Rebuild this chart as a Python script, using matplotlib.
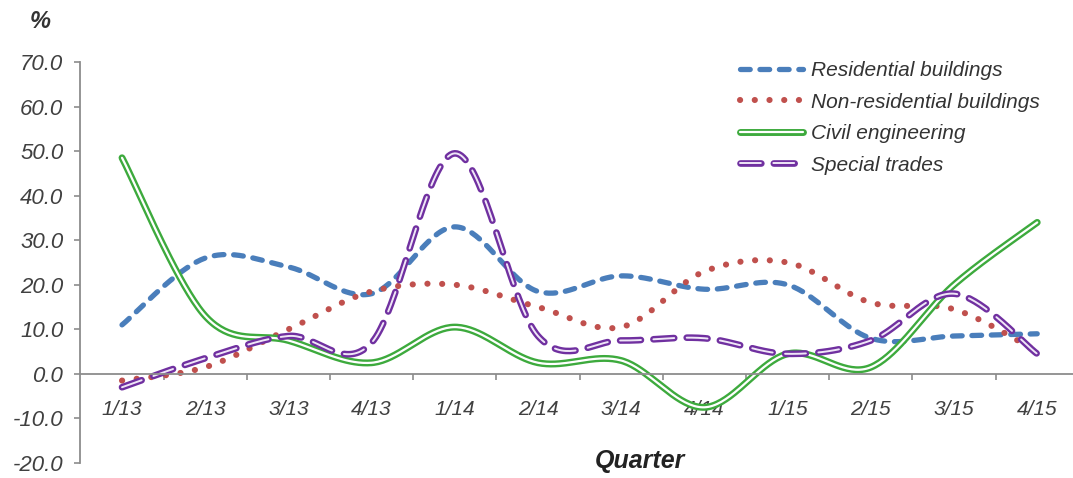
import numpy as np
import matplotlib
matplotlib.use("Agg")
from matplotlib import pyplot as plt
from matplotlib.legend_handler import HandlerTuple

plt.rcParams['font.family'] = ['Liberation Sans', 'DejaVu Sans']
plt.rcParams['lines.scale_dashes'] = False

quarters = ['1/13', '2/13', '3/13', '4/13', '1/14', '2/14', '3/14', '4/14',
            '1/15', '2/15', '3/15', '4/15']
residential = [11.0, 26.0, 24.0, 18.0, 33.0, 18.5, 22.0, 19.0, 20.0, 8.0, 8.5, 9.0]
non_residential = [-1.5, 1.5, 10.0, 18.5, 20.0, 15.0, 10.5, 23.0, 25.0, 16.0, 14.5, 5.0]
civil = [48.5, 13.0, 7.5, 2.5, 10.5, 2.5, 3.0, -7.5, 4.5, 1.5, 20.0, 34.0]
special = [-3.0, 3.5, 8.5, 7.0, 49.5, 8.5, 7.5, 8.0, 4.5, 7.5, 18.0, 4.5]
yticks = [-20, -10, 0, 10, 20, 30, 40, 50, 60, 70]


def smooth(vals, n=40):
    # Bezier smoothing through every point, control points at 1/6 of neighbour span
    p = np.column_stack([np.arange(len(vals), dtype=float), np.asarray(vals, float)])
    xs, ys = [], []
    for i in range(len(p) - 1):
        p0 = p[i - 1] if i > 0 else p[i]
        p1, p2 = p[i], p[i + 1]
        p3 = p[i + 2] if i + 2 < len(p) else p[i + 1]
        c1 = p1 + (p2 - p0) / 6.0
        c2 = p2 - (p3 - p1) / 6.0
        t = np.linspace(0, 1, n)[:, None]
        b = ((1 - t) ** 3) * p1 + 3 * (1 - t) ** 2 * t * c1 + 3 * (1 - t) * t ** 2 * c2 + t ** 3 * p2
        xs.append(b[:, 0]); ys.append(b[:, 1])
    return np.concatenate(xs), np.concatenate(ys)


fig = plt.figure(figsize=(10.73, 4.78), dpi=100)
ax = fig.add_axes([80 / 1073, 1 - 463 / 478, 993 / 1073, 401 / 478])

blue = '#4a7ebb'; red = '#c0504d'; green = '#3daa3d'; purple = '#7030a0'

x, y = smooth(residential)
h1, = ax.plot(x, y, color=blue, lw=3.8, linestyle=(0, (7, 7)), dash_capstyle='round')
x, y = smooth(non_residential)
h2, = ax.plot(x, y, color=red, lw=4.4, linestyle=(0, (0.1, 10.5)), dash_capstyle='round')
x, y = smooth(civil)
h3a, = ax.plot(x, y, color=green, lw=5.0, solid_capstyle='round')
h3b, = ax.plot(x, y, color='white', lw=1.6, solid_capstyle='round')
x, y = smooth(special)
h4a, = ax.plot(x, y, color=purple, lw=4.8, linestyle=(0, (15, 9)), dash_capstyle='round')
h4b, = ax.plot(x, y, color='#efe6f7', lw=1.4, linestyle=(0, (15, 9)), dash_capstyle='round')

ax.set_xlim(-0.505, 11.43)
ax.set_ylim(-20, 70)

for s in ['top', 'right']:
    ax.spines[s].set_visible(False)
ax.spines['bottom'].set_position(('data', 0))
ax.spines['bottom'].set_color('#8c8c8c')
ax.spines['left'].set_color('#8c8c8c')
ax.spines['bottom'].set_linewidth(1.3)
ax.spines['left'].set_linewidth(1.3)

ax.set_yticks(yticks)
ax.set_yticklabels(['%.1f' % v for v in yticks], fontsize=16, style='italic', color='#404040')
ax.tick_params(axis='y', length=4, width=1.2, color='#8c8c8c', pad=8)

ax.set_xticks(range(len(quarters)))
ax.set_xticklabels(quarters, fontsize=15, style='italic', color='#404040')
ax.set_xticks(np.arange(0.5, len(quarters) - 0.5, 1.0), minor=True)
ax.tick_params(axis='x', which='major', length=0, pad=19)
ax.tick_params(axis='x', which='minor', length=4, width=1.2, color='#8c8c8c', direction='out')

fig.text(40 / 1073, 1 - 22 / 478, '%', fontsize=17, fontweight='bold', style='italic',
         color='#333333', ha='center', va='center')
fig.text(640 / 1073, 1 - 461 / 478, 'Quarter', fontsize=18, fontweight='bold', style='italic',
         color='#222222', ha='center', va='center')

leg = ax.legend([h1, h2, (h3a, h3b), (h4a, h4b)],
                ['Residential buildings', 'Non-residential buildings', 'Civil engineering', 'Special trades'],
                handler_map={tuple: HandlerTuple(ndivide=1)},
                loc='upper left', bbox_to_anchor=(734 / 1073, 1 - 55 / 478), bbox_transform=fig.transFigure,
                frameon=False, handlelength=3.0, handletextpad=0.4, labelspacing=0.6,
                borderaxespad=0, borderpad=0.3,
                prop={'size': 15, 'style': 'italic'})
for t in leg.get_texts():
    t.set_color('#333333')

fig.savefig('out.png', dpi=100)
